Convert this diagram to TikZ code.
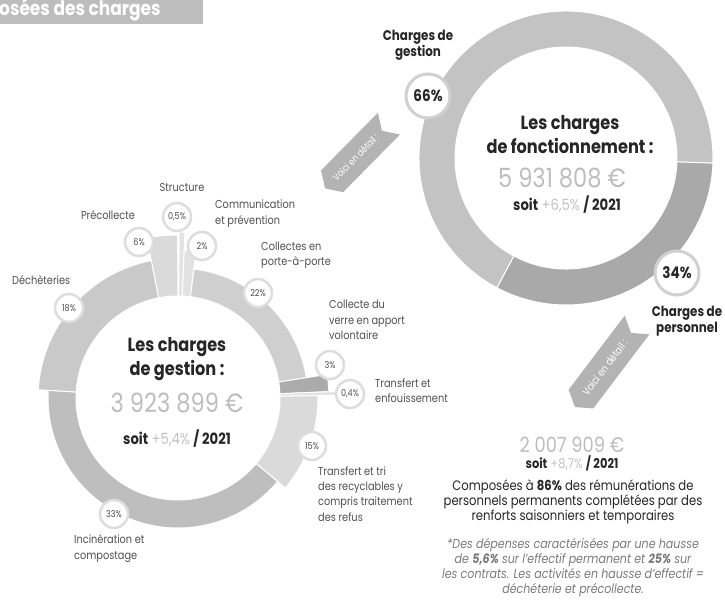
\documentclass[tikz,border=0pt]{standalone}
\usepackage{fontspec}
\setmainfont{Poppins}[FakeStretch=0.85]
\usepackage{xcolor}
\usetikzlibrary{calc}
\definecolor{txtdark}{HTML}{262626}
\definecolor{txtsoft}{HTML}{505050}
\definecolor{notegray}{HTML}{7A7A7A}
\definecolor{amountgray}{HTML}{BDBDBD}
\definecolor{plusgray}{HTML}{C2C2C2}
\definecolor{headgray}{HTML}{BDBDBD}
\definecolor{arrowgray}{HTML}{B3B3B3}
\definecolor{ringgray}{HTML}{DDDDDD}
\definecolor{ringgray2}{HTML}{D0D0D0}
\definecolor{fixlight}{HTML}{C3C3C3}
\definecolor{fixdark}{HTML}{A9A9A9}
\definecolor{segpale}{HTML}{E2E2E2}
\definecolor{seglight}{HTML}{DADADA}
\definecolor{segmid}{HTML}{CFCFCF}
\definecolor{segdech}{HTML}{C9C9C9}
\definecolor{seginc}{HTML}{BEBEBE}
\definecolor{segdark}{HTML}{ABABAB}
\newcommand{\ringslice}[6]{%
	\fill[#6, draw=white, line width=1pt] ([shift={(#2:#4)}]#1) arc[start angle=#2, end angle=#3, radius=#4]
		-- ([shift={(#3:#5)}]#1) arc[start angle=#3, end angle=#2, radius=#5] -- cycle;}
\tikzset{
	pics/detail/.style 2 args={code={
		\fill[arrowgray] (#1,15.5) -- (-#1+10,15.5) -- (-#1,0) -- (-#1+10,-15.5) -- (#1,-15.5) -- (#1-10,0) -- cycle;
		\node[transform shape, text=white, inner sep=0pt, font=\fontsize{#2}{#2}\selectfont] (-txt) at (-2,0) {Voici en détail :};
	}}
}

\begin{document}
\begin{tikzpicture}[x=1pt, y=1pt,
		pct/.style={circle, fill=white, draw=ringgray, line width=2.5pt, minimum size=28pt, inner sep=0pt, text=txtsoft, font=\fontsize{9.5}{10}\selectfont},
		bigpct/.style={pct, draw=ringgray2, line width=3pt, minimum size=44pt, text=txtdark, font=\bfseries\fontsize{16}{18}\selectfont},
		lbl/.style={anchor=west, align=left, inner sep=0pt, text=txtsoft, font=\fontsize{11.5}{15.3}\selectfont},
		title/.style={align=center, inner sep=0pt, text=txtdark, font=\bfseries\fontsize{19}{24}\selectfont},
		amount/.style={inner sep=0pt, text=amountgray, font=\fontsize{26.5}{28}\selectfont},
		versus/.style={inner sep=0pt, text=txtdark, font=\fontsize{15.5}{18}\selectfont},
		part/.style={align=center, inner sep=0pt, text=txtdark, font=\bfseries\fontsize{14}{15.5}\selectfont}]
	\useasboundingbox (0,0) rectangle (725,-613);

	\fill[headgray] (0,0) rectangle (203,-24);
	\node[anchor=base west, inner sep=0pt, text=white, font=\bfseries\fontsize{20}{24}\selectfont] (head) at (-1,-16) {osées des charges};

	% charges de fonctionnement
	\coordinate (fc) at (566,-158);
	\ringslice{fc}{-2}{242}{111}{147}{fixlight}
	\ringslice{fc}{-118}{-2}{111}{147}{fixdark}
	\node[title] (ftitle) at (570,-135) {Les charges\\de fonctionnement :};
	\node[amount] (famount) at (562,-178) {5 931 808 €};
	\node[versus] (fvs) at (567,-205) {\textbf{soit} {\color{plusgray}+6,5\%} \textbf{/ 2021}};
	\node[bigpct] (p66) at (428,-96) {66\%};
	\node[bigpct] (p34) at (677,-273) {34\%};
	\node[part] (fgest) at (418,-45) {Charges de\\gestion};
	\node[part] (fpers) at (687,-321) {Charges de\\personnel};

	\pic[rotate=45.4] (vd1) at (357,-156) {detail={45.5}{9.5}};
	\pic[rotate=52.9] (vd2) at (606,-366) {detail={51.5}{10.5}};

	% charges de gestion
	\coordinate (gc) at (178,-398);
	\ringslice{gc}{90.1}{101}{102}{163}{seglight}
	\ringslice{gc}{87.6}{89.6}{102}{166}{segpale}
	\ringslice{gc}{83}{87.6}{102}{148}{segpale}
	\ringslice{gc}{9}{83}{102}{130}{segmid}
	\ringslice{gc}{2.4}{9}{102}{151}{segdark}
	\ringslice{gc}{1}{2.4}{102}{160}{segpale}
	\ringslice{gc}{-40}{1}{102}{140}{seglight}
	\ringslice{gc}{-183.4}{-40}{102}{130}{seginc}
	\ringslice{gc}{101}{176.6}{102}{140}{segdech}
	\node[title] (gtitle) at (177,-359) {Les charges\\de gestion :};
	\node[amount] (gamount) at (177,-403) {3 923 899 €};
	\node[versus] (gvs) at (177,-439) {\textbf{soit} {\color{plusgray}+5,4\%} \textbf{/ 2021}};

	\node[pct] (p18) at (69,-308) {18\%};
	\node[pct] (p6) at (139,-242) {6\%};
	\node[pct] (p05) at (177,-217) {0,5\%};
	\node[pct] (p2) at (202,-246) {2\%};
	\node[pct] (p22) at (258,-293) {22\%};
	\node[pct] (p3) at (330,-365) {3\%};
	\node[pct] (p04) at (350,-394) {0,4\%};
	\node[pct] (p15) at (312,-446) {15\%};
	\node[pct] (p33) at (114,-514) {33\%};

	\node[lbl, anchor=center] (lstruct) at (182,-187) {Structure};
	\node[lbl, anchor=center] (lprec) at (108,-215) {Précollecte};
	\node[lbl] (ldech) at (12,-280) {Déchèteries};
	\node[lbl] (lcomm) at (215,-213.5) {Communication\\et prévention};
	\node[lbl] (lpap) at (261,-255.5) {Collectes en\\porte-à-porte};
	\node[lbl] (lverre) at (329,-320) {Collecte du\\verre en apport\\volontaire};
	\node[lbl] (lenf) at (375,-391) {Transfert et\\enfouissement};
	\node[lbl] (ltri) at (318,-494) {Transfert et tri\\des recyclables y\\compris traitement\\des refus};
	\node[lbl] (linc) at (74,-548.5) {Incinération et\\compostage};

	% charges de personnel
	\node[inner sep=0pt, text=amountgray, font=\fontsize{21}{24}\selectfont] (pamount) at (572,-445) {2 007 909 €};
	\node[versus, font=\fontsize{13.5}{16}\selectfont] (pvs) at (572,-463) {\textbf{soit} {\color{plusgray}+8,7\%} \textbf{/ 2021}};
	\node[align=center, inner sep=0pt, text=txtdark, font=\fontsize{13.7}{15}\selectfont] (pcomp) at (573,-502) {Composées à \textbf{86\%} des rémunérations de\\personnels permanents complétées par des\\renforts saisonniers et temporaires};
	\node[align=center, inner sep=0pt, text=notegray, font=\itshape\fontsize{13}{15}\selectfont] (pnote) at (573,-567.5) {*Des dépenses caractérisées par une hausse\\de \textbf{5,6\%} sur l'effectif permanent et \textbf{25\%} sur\\les contrats. Les activités en hausse d'effectif =\\déchéterie et précollecte.};
\end{tikzpicture}
\end{document}
